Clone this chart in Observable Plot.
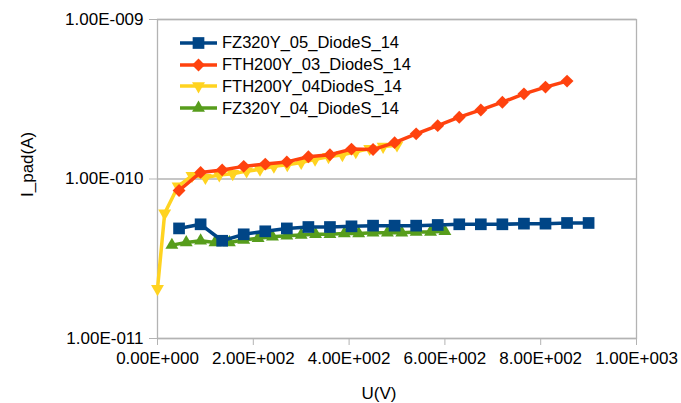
<!DOCTYPE html>
<html>
<head>
<meta charset="utf-8">
<script src="https://cdn.jsdelivr.net/npm/d3@7"></script>
<script src="https://cdn.jsdelivr.net/npm/@observablehq/plot@0.6"></script>
<style>
  html, body { margin: 0; padding: 0; background: #fff; }
  #wrap { position: relative; width: 681px; height: 403px; font-family: 'Liberation Sans', Arial, sans-serif; }
  #legend { position: absolute; left: 0; top: 0; }
  .row { position: absolute; left: 180px; height: 22px; display: flex; align-items: center; font-size: 16.5px; color: #000; white-space: nowrap; }
  .row svg { margin-right: 5px; }
</style>
</head>
<body>
<div id="wrap"><div id="legend"></div></div>
<script>
// ---- Data ----
const seriesNames = ["FZ320Y_05_DiodeS_14", "FTH200Y_03_DiodeS_14", "FTH200Y_04DiodeS_14", "FZ320Y_04_DiodeS_14"];
const seriesColors = ["#004586", "#ff420e", "#ffd320", "#579d1c"];

// FZ320Y_05_DiodeS_14 (blue squares)
const blueV = [45, 90, 135, 180, 225, 270, 315, 360, 405, 450, 495, 540, 585, 630, 675, 720, 765, 810, 855, 900];
const blueI = [4.9e-11, 5.2e-11, 4.1e-11, 4.5e-11, 4.7e-11, 4.9e-11, 5.0e-11, 5.0e-11, 5.05e-11, 5.1e-11, 5.1e-11, 5.1e-11, 5.15e-11, 5.2e-11, 5.2e-11, 5.2e-11, 5.25e-11, 5.25e-11, 5.3e-11, 5.3e-11];

// FTH200Y_03_DiodeS_14 (orange diamonds)
const orangeV = [45, 90, 135, 180, 225, 270, 315, 360, 405, 450, 495, 540, 585, 630, 675, 720, 765, 810, 855];
const orangeI = [8.47e-11, 1.10e-10, 1.14e-10, 1.20e-10, 1.24e-10, 1.28e-10, 1.38e-10, 1.42e-10, 1.54e-10, 1.53e-10, 1.69e-10, 1.92e-10, 2.16e-10, 2.44e-10, 2.71e-10, 3.03e-10, 3.42e-10, 3.77e-10, 4.11e-10];

// FTH200Y_04DiodeS_14 (yellow down-triangles)
const yellowV = [0, 15, 43, 72, 100, 129, 157, 186, 214, 243, 271, 300, 329, 357, 386, 414, 443, 471, 500];
const yellowI = [2.05e-11, 6.1e-11, 9.0e-11, 1.05e-10, 1.02e-10, 1.06e-10, 1.08e-10, 1.12e-10, 1.15e-10, 1.2e-10, 1.23e-10, 1.27e-10, 1.33e-10, 1.38e-10, 1.42e-10, 1.48e-10, 1.55e-10, 1.6e-10, 1.63e-10];

// FZ320Y_04_DiodeS_14 (green triangles)
const greenV = [30, 60, 90, 120, 150, 180, 210, 240, 270, 300, 330, 360, 390, 420, 450, 480, 510, 540, 570, 600];
const greenI = [3.85e-11, 4.0e-11, 4.1e-11, 4.0e-11, 4.0e-11, 4.15e-11, 4.25e-11, 4.35e-11, 4.4e-11, 4.45e-11, 4.5e-11, 4.5e-11, 4.55e-11, 4.55e-11, 4.6e-11, 4.6e-11, 4.6e-11, 4.65e-11, 4.65e-11, 4.7e-11];

const xTicks = [0, 200, 400, 600, 800, 1000];
const yTicks = [1e-11, 1e-10, 1e-9];
const xLabel = "U(V)";
const yLabel = "I_pad(A)";

// ---- Build ----
const rows = (V, I) => V.map((v, i) => ({V: v, I: I[i]}));
const blue = rows(blueV, blueI);
const orange = rows(orangeV, orangeI);
const yellow = rows(yellowV, yellowI);
const green = rows(greenV, greenI);

function sci(v) {
  const [m, e] = v.toExponential(2).split("e");
  const n = +e;
  return m + "E" + (n < 0 ? "-" : "+") + String(Math.abs(n)).padStart(3, "0");
}

const grey = "#b3b3b3";
const lw = 3.5;

const chart = Plot.plot({
  width: 681,
  height: 403,
  marginLeft: 157,
  marginRight: 45,
  marginTop: 19,
  marginBottom: 65,
  style: {fontFamily: "'Liberation Sans', Arial, sans-serif", fontSize: "17px", color: "#000", background: "#fff"},
  x: {domain: [0, 1000]},
  y: {type: "log", domain: [1e-11, 1e-9]},
  marks: [
    Plot.gridY(yTicks, {stroke: grey, strokeOpacity: 1, strokeWidth: 1.3}),
    Plot.frame({stroke: grey, strokeWidth: 1.3}),
    Plot.axisX(xTicks, {tickFormat: sci, tickSize: 7, tickPadding: 6, stroke: grey, fill: "#000", label: null}),
    Plot.axisY(yTicks, {tickFormat: sci, tickSize: 8, tickPadding: 6, stroke: grey, fill: "#000", label: null}),
    Plot.text([xLabel], {frameAnchor: "bottom", dy: 60, dx: -18, fill: "#000"}),
    Plot.text([yLabel], {frameAnchor: "left", dx: -130, dy: 18, rotate: -90, fill: "#000"}),

    Plot.line(yellow, {x: "V", y: "I", stroke: seriesColors[2], strokeWidth: lw}),
    Plot.dot(yellow, {x: "V", y: "I", symbol: "triangle", rotate: 180, r: 4.8, fill: seriesColors[2], stroke: "none"}),
    Plot.line(green, {x: "V", y: "I", stroke: seriesColors[3], strokeWidth: lw}),
    Plot.dot(green, {x: "V", y: "I", symbol: "triangle", r: 4.8, fill: seriesColors[3], stroke: "none"}),
    Plot.line(orange, {x: "V", y: "I", stroke: seriesColors[1], strokeWidth: lw}),
    Plot.dot(orange, {x: "V", y: "I", symbol: "diamond2", r: 5.8, fill: seriesColors[1], stroke: "none"}),
    Plot.line(blue, {x: "V", y: "I", stroke: seriesColors[0], strokeWidth: lw}),
    Plot.dot(blue, {x: "V", y: "I", symbol: "square", r: 6.6, fill: seriesColors[0], stroke: "none"})
  ]
});
document.getElementById("wrap").prepend(chart);

// ---- Legend ----
const legendSymbols = [
  {type: d3.symbolSquare, size: Math.PI * 6.6 * 6.6, rot: 0},
  {type: d3.symbolDiamond2, size: Math.PI * 5.8 * 5.8, rot: 0},
  {type: d3.symbolTriangle, size: Math.PI * 4.8 * 4.8, rot: 180},
  {type: d3.symbolTriangle, size: Math.PI * 4.8 * 4.8, rot: 0}
];
const legend = d3.select("#legend");
seriesNames.forEach((name, i) => {
  const row = legend.append("div").attr("class", "row").style("top", (42.7 + 21.8 * i - 11) + "px");
  const svg = row.append("svg").attr("width", 37).attr("height", 22);
  svg.append("line").attr("x1", 0).attr("x2", 37).attr("y1", 11).attr("y2", 11)
    .attr("stroke", seriesColors[i]).attr("stroke-width", lw);
  svg.append("path").attr("d", d3.symbol(legendSymbols[i].type, legendSymbols[i].size)())
    .attr("transform", `translate(18.5,11) rotate(${legendSymbols[i].rot})`)
    .attr("fill", seriesColors[i]);
  row.append("span").text(name);
});
</script>
</body>
</html>
